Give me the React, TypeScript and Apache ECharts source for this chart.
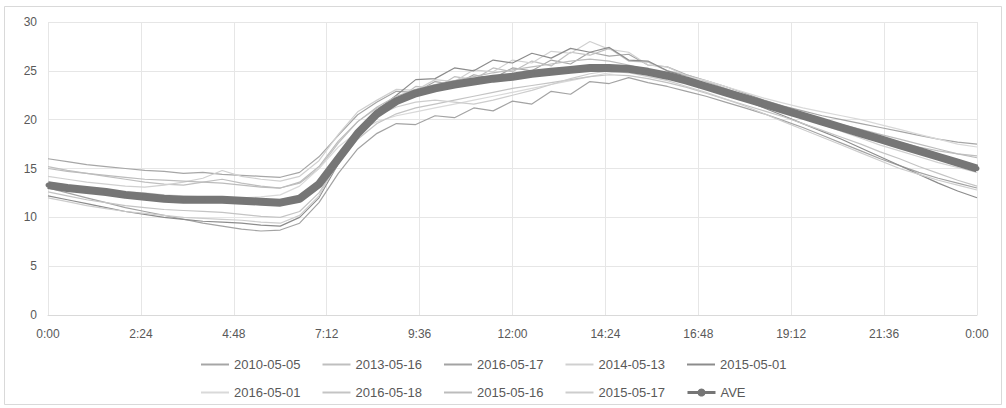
import React, { useEffect, useRef } from "react";
import * as echarts from "echarts";

// time in minutes, every 30 minutes from 0:00 to 24:00
const times: number[] = [
  0, 30, 60, 90, 120, 150, 180, 210, 240, 270, 300, 330, 360, 390, 420, 450, 480,
  510, 540, 570, 600, 630, 660, 690, 720, 750, 780, 810, 840, 870, 900, 930, 960,
  990, 1020, 1050, 1080, 1110, 1140, 1170, 1200, 1230, 1260, 1290, 1320, 1350,
  1380, 1410, 1440,
];

const xTickLabels = ["0:00", "2:24", "4:48", "7:12", "9:36", "12:00", "14:24", "16:48", "19:12", "21:36", "0:00"];

const seriesNames = [
  "2010-05-05", "2013-05-16", "2016-05-17", "2014-05-13", "2015-05-01",
  "2016-05-01", "2016-05-18", "2015-05-16", "2015-05-17",
];

const s2010_05_05 = [16.0,15.7,15.4,15.2,15.0,14.8,14.7,14.5,14.6,14.4,14.3,14.2,14.1,14.6,16.2,18.4,20.5,21.8,22.9,22.8,23.9,23.6,24.6,24.2,25.3,25.0,26.1,25.7,26.9,26.5,26.7,25.6,25.4,24.6,24.0,23.4,22.7,22.0,21.4,20.9,20.4,20.0,19.6,19.2,18.8,18.4,18.0,17.7,17.5];
const s2013_05_16 = [15.2,14.8,14.5,14.2,13.9,13.6,13.4,13.3,13.6,13.9,13.5,13.2,13.0,13.5,15.0,17.6,19.8,21.2,22.0,23.4,23.2,24.4,24.1,25.3,24.9,26.0,25.5,26.9,26.6,27.3,26.0,25.9,25.0,24.6,23.9,23.2,22.5,21.8,21.2,20.6,20.0,19.4,18.8,18.2,17.7,17.2,16.8,16.5,16.3];
const s2016_05_17 = [13.0,12.5,12.0,11.5,11.0,10.6,10.2,9.8,9.4,9.1,8.8,8.6,8.7,9.4,11.5,14.5,17.0,18.6,19.6,19.5,20.4,20.2,21.2,20.9,21.9,21.6,22.9,22.6,23.9,23.7,24.3,23.8,23.4,22.9,22.4,21.8,21.2,20.6,19.9,19.2,18.4,17.6,16.8,16.0,15.3,14.6,14.0,13.5,13.0];
const s2014_05_13 = [14.2,13.9,13.6,13.4,13.2,13.1,13.3,13.6,14.0,14.8,14.2,13.9,13.7,14.2,15.8,18.5,20.8,22.0,23.1,23.0,24.1,23.9,25.1,24.9,26.1,25.8,27.0,26.8,28.0,27.2,26.9,25.6,25.4,24.5,23.7,22.9,22.2,21.5,20.9,20.2,19.5,18.8,18.1,17.4,16.8,16.2,15.6,15.1,14.6];
const s2015_05_01 = [12.2,11.8,11.4,11.0,10.6,10.3,10.0,9.8,9.6,9.5,9.4,9.2,9.1,10.0,12.0,15.5,18.5,21.0,22.5,24.1,24.2,25.3,25.0,26.1,25.8,26.8,26.3,27.3,26.9,27.4,26.1,26.0,25.0,24.4,23.6,22.8,22.0,21.2,20.4,19.6,18.8,18.0,17.1,16.2,15.3,14.4,13.5,12.7,12.0];
const s2016_05_01 = [13.6,13.3,13.0,12.8,12.6,12.5,12.3,12.2,12.1,12.0,12.0,12.1,12.3,13.2,15.0,17.2,18.8,19.8,20.4,20.8,21.2,21.6,22.0,22.4,22.8,23.2,23.6,24.0,24.4,24.8,25.0,24.9,24.7,24.4,24.0,23.4,22.8,22.2,21.7,21.2,20.8,20.4,20.0,19.5,19.0,18.5,18.0,17.5,17.2];
const s2016_05_18 = [12.6,12.2,11.8,11.5,11.2,11.0,10.8,10.7,10.6,10.5,10.3,10.1,10.0,10.6,12.5,15.5,18.0,19.6,20.6,21.2,21.6,22.0,22.4,22.8,23.2,23.5,23.8,24.1,24.4,24.6,24.5,24.2,23.8,23.3,22.7,22.1,21.5,20.9,20.3,19.6,18.9,18.2,17.5,16.7,16.0,15.2,14.5,13.8,13.2];
const s2015_05_16 = [15.0,14.7,14.5,14.3,14.1,13.9,13.8,13.7,13.6,13.5,13.3,13.1,13.0,13.6,15.2,17.8,19.8,21.3,22.4,23.1,23.6,24.0,24.4,24.8,25.1,25.4,25.7,26.0,26.2,26.0,25.6,25.1,24.6,24.0,23.4,22.8,22.2,21.6,21.0,20.5,20.0,19.5,19.0,18.5,18.0,17.5,17.0,16.5,16.1];
const s2015_05_17 = [12.0,11.6,11.2,10.9,10.6,10.4,10.2,10.0,9.9,9.8,9.7,9.5,9.4,10.2,12.2,15.8,18.6,20.4,21.3,21.8,22.0,21.8,21.6,22.0,22.5,23.0,23.6,24.2,24.7,25.0,24.8,24.4,24.0,23.4,22.8,22.1,21.4,20.6,19.8,19.0,18.2,17.4,16.6,15.8,15.0,14.4,13.8,13.3,12.8];

const aveValues = [13.3,13.0,12.8,12.6,12.3,12.1,11.9,11.8,11.8,11.8,11.7,11.6,11.5,11.9,13.4,16.0,18.6,20.6,21.9,22.7,23.2,23.6,23.9,24.2,24.4,24.7,24.9,25.1,25.3,25.3,25.2,24.9,24.5,24.0,23.4,22.8,22.2,21.6,21.0,20.4,19.8,19.2,18.6,18.0,17.4,16.8,16.2,15.6,15.0];

const seriesValues = [
  s2010_05_05, s2013_05_16, s2016_05_17, s2014_05_13, s2015_05_01,
  s2016_05_01, s2016_05_18, s2015_05_16, s2015_05_17,
];

const seriesColors = ["#a6a6a6", "#bfbfbf", "#a3a3a3", "#d0d0d0", "#8c8c8c", "#d9d9d9", "#c4c4c4", "#bcbcbc", "#cdcdcd"];

export default function App() {
  const ref = useRef<HTMLDivElement>(null);

  useEffect(() => {
    if (!ref.current) return;
    const chart = echarts.init(ref.current, null, { renderer: "svg" });
    const font = "'Liberation Sans', Arial, sans-serif";
    const thin = seriesNames.map((name, k) => ({
      name,
      type: "line",
      data: times.map((t, i) => [t, seriesValues[k][i]]),
      symbol: "none",
      lineStyle: { width: 1.2, color: seriesColors[k] },
      itemStyle: { color: seriesColors[k] },
      z: 2,
    }));
    const legendBase = {
      left: 200,
      padding: 0,
      itemWidth: 28,
      itemHeight: 10,
      itemGap: 21,
      textStyle: { color: "#595959", fontFamily: font, fontSize: 13 },
    };
    const legendItems = [
      ...seriesNames.map((n) => ({ name: n, itemStyle: { opacity: 0 } })),
      { name: "AVE", itemStyle: { opacity: 1 }, lineStyle: { width: 3 } },
    ];
    const option = {
      animation: false,
      backgroundColor: "#ffffff",
      graphic: [
        {
          type: "rect",
          shape: { x: 4.5, y: 6.5, width: 997, height: 398 },
          style: { fill: "none", stroke: "#d9d9d9", lineWidth: 1 },
          silent: true,
        },
      ],
      grid: { left: 48, right: 29, top: 22, bottom: 93 },
      xAxis: {
        type: "value",
        min: 0,
        max: 1440,
        interval: 144,
        axisLine: { show: true, lineStyle: { color: "#d9d9d9" } },
        axisTick: { show: false },
        splitLine: { show: true, lineStyle: { color: "#e6e6e6" } },
        axisLabel: {
          color: "#595959",
          fontFamily: font,
          fontSize: 12,
          margin: 13,
          formatter: (v: number) => xTickLabels[Math.round(v / 144)] ?? "",
        },
      },
      yAxis: {
        type: "value",
        min: 0,
        max: 30,
        interval: 5,
        axisLine: { show: false },
        axisTick: { show: false },
        splitLine: { show: true, lineStyle: { color: "#e6e6e6" } },
        axisLabel: { color: "#595959", fontFamily: font, fontSize: 12, margin: 11 },
      },
      legend: [
        { ...legendBase, top: 358, data: legendItems.slice(0, 5) },
        { ...legendBase, top: 386, data: legendItems.slice(5) },
      ],
      series: [
        ...thin,
        {
          name: "AVE",
          type: "line",
          data: times.map((t, i) => [t, aveValues[i]]),
          symbol: "circle",
          symbolSize: 5,
          showSymbol: true,
          lineStyle: { width: 8, color: "#767676" },
          itemStyle: { color: "#767676" },
          z: 5,
        },
      ],
    };
    chart.setOption(option as any);
    return () => chart.dispose();
  }, []);

  return (
    <div
      ref={ref}
      style={{ position: "fixed", left: 0, top: 0, width: 1006, height: 408, background: "#fff" }}
    />
  );
}
